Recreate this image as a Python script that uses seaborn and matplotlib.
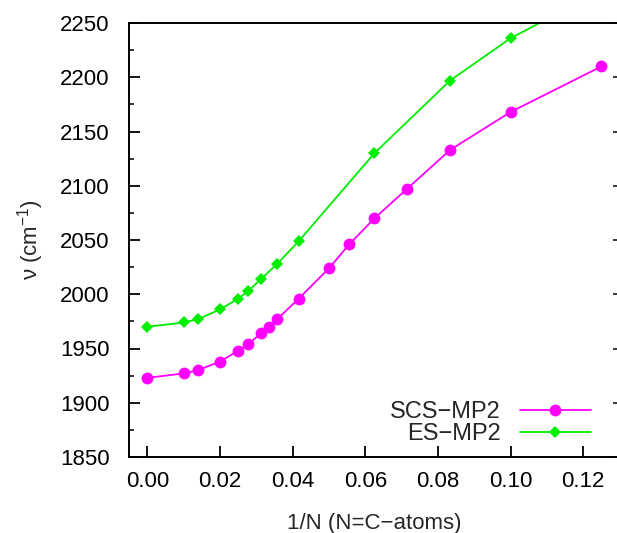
import matplotlib
matplotlib.use("Agg")
import matplotlib.pyplot as plt
import seaborn as sns
import pandas as pd
from matplotlib.ticker import MultipleLocator, FixedLocator

# ---- data ----
scs_x = [0.0, 1/100, 1/72, 1/50, 1/40, 1/36, 1/32, 1/30, 1/28, 1/24, 1/20, 1/18, 1/16, 1/14, 1/12, 1/10, 1/8]
scs_y = [1923, 1927, 1930, 1938, 1948, 1954, 1964, 1970, 1977, 1996, 2024, 2046, 2070, 2097, 2133, 2168, 2210]
es_x = [0.0, 1/100, 1/72, 1/50, 1/40, 1/36, 1/32, 1/28, 1/24, 1/16, 1/12, 1/10, 1/8]
es_y = [1970, 1974, 1977, 1986, 1996, 2003, 2014, 2028, 2049, 2130, 2197, 2236, 2280]
x_ticks = [0.00, 0.02, 0.04, 0.06, 0.08, 0.10, 0.12]
y_ticks = [1850, 1900, 1950, 2000, 2050, 2100, 2150, 2200, 2250]

sns.set_style("white")
plt.rcParams['font.family'] = ['Liberation Sans', 'DejaVu Sans']
plt.rcParams['mathtext.fontset'] = 'custom'
plt.rcParams['mathtext.rm'] = 'Liberation Sans'
plt.rcParams['mathtext.default'] = 'regular'

fig = plt.figure(figsize=(6.17, 5.33), dpi=100)
ax = fig.add_axes([129.3/617, 76/533, (619.6-129.3)/617, 434/533])

df_scs = pd.DataFrame({'x': scs_x, 'y': scs_y})
df_es = pd.DataFrame({'x': es_x, 'y': es_y})

sns.lineplot(data=df_scs, x='x', y='y', ax=ax, color='#ff00ff', lw=1.3,
             marker='o', markersize=8.5, markeredgewidth=0, label='SCS\u2212MP2')
sns.lineplot(data=df_es, x='x', y='y', ax=ax, color='#00ee00', lw=1.3,
             marker='D', markersize=6.0, markeredgewidth=0, label='ES\u2212MP2')

ax.set_xlim(-0.005, 0.13)
ax.set_ylim(1850, 2250)
ax.xaxis.set_major_locator(FixedLocator(x_ticks))
ax.set_xticklabels([f"{v:.2f}" for v in x_ticks])
ax.yaxis.set_major_locator(FixedLocator(y_ticks))
ax.yaxis.set_minor_locator(MultipleLocator(25))

for s in ax.spines.values():
    s.set_linewidth(1.4)
    s.set_color('black')

ax.tick_params(axis='x', which='major', direction='in', length=8, width=1.3,
               bottom=True, top=False, labelsize=16, pad=10, colors='black')
ax.tick_params(axis='y', which='major', direction='in', length=8, width=1.3,
               left=True, right=False, labelsize=16, pad=14, colors='black')
ax.tick_params(axis='y', which='minor', direction='in', length=3.6, width=1.3,
               left=True, right=False)

sec = ax.secondary_yaxis('right')
sec.yaxis.set_major_locator(FixedLocator(y_ticks))
sec.yaxis.set_minor_locator(MultipleLocator(25))
sec.tick_params(axis='y', which='major', direction='in', length=5, width=1.3, labelright=False)
sec.tick_params(axis='y', which='minor', direction='in', length=2.2, width=1.3)
sec.spines['right'].set_linewidth(1.4)

ax.set_xlabel('1/N (N=C\u2212atoms)', fontsize=16, labelpad=15)
ax.set_ylabel('\u03bd (cm$^{-1}$)', fontsize=16, labelpad=10)

leg = ax.legend(loc='lower right', bbox_to_anchor=(0.97, -0.005), frameon=False,
                fontsize=17, markerfirst=False, handlelength=3.0,
                handletextpad=0.8, labelspacing=0.0, borderaxespad=0.2)

fig.savefig('out.png', dpi=100)
